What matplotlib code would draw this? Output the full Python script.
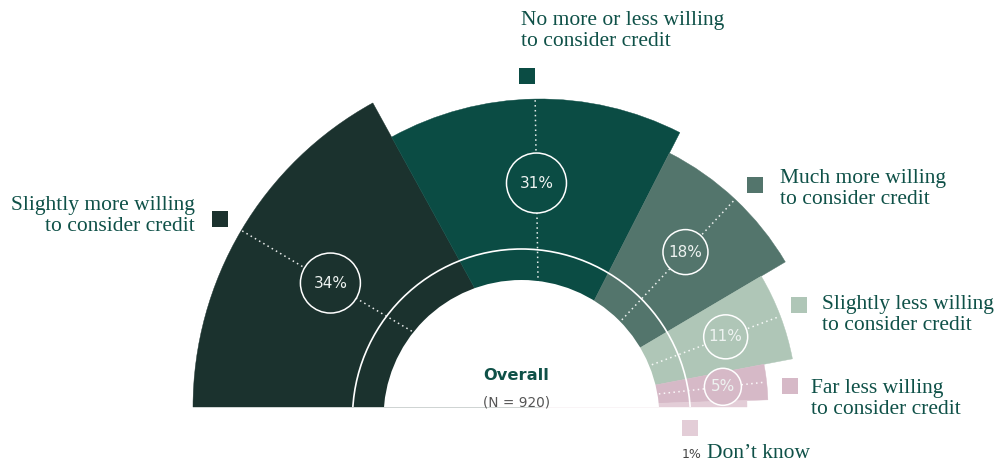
import matplotlib
matplotlib.use("Agg")
import numpy as np
import matplotlib.pyplot as plt
from matplotlib.patches import Wedge, Circle, Rectangle

# ---------------- data ----------------
categories = [
    "Slightly more willing\nto consider credit",
    "No more or less willing\nto consider credit",
    "Much more willing\nto consider credit",
    "Slightly less willing\nto consider credit",
    "Far less willing\nto consider credit",
    "Don\u2019t know",
]
values = [34, 31, 18, 11, 5, 1]
value_labels = ["34%", "31%", "18%", "11%", "5%", "1%"]
center_title = "Overall"
center_sub = "(N = 920)"

# ---------------- styles / layout ----------------
colors = ["#1b322e", "#0b4c44", "#53756c", "#afc6b7", "#d6b9c7", "#e3cdd7"]
outer_r = [347, 308, 285, 257, 228, 207]      # outer radius per wedge (px)
badge_r = [30, 30, 22.5, 22, 18.5, 0]          # label circle radius (px)
text_color = "#0f5148"

W, H = 1000, 467
fig = plt.figure(figsize=(10, 4.67), dpi=100)
ax = fig.add_axes([0, 0, 1, 1])
ax.set_xlim(0, W)
ax.set_ylim(0, H)
ax.axis("off")


def py(y):
    """convert a top-down pixel row into axis y"""
    return H - y


cx, cy = 540, py(407)          # pie centre
hx, hy = 521.5, py(418)        # hole / ring centre
hole_r, ring_r = 138, 169

clip = Rectangle((0, cy), W, H - cy, transform=ax.transData)

total = float(sum(values))
start = 180.0
mids = []
for v, col, r in zip(values, colors, outer_r):
    th2 = start
    th1 = start - 180.0 * v / total
    ax.add_patch(Wedge((cx, cy), r, th1, th2, facecolor=col, edgecolor=col,
                       linewidth=0.3, zorder=1))
    mids.append((th1 + th2) / 2)
    start = th1

# dotted radial guides
for m, r, br in zip(mids, outer_r, badge_r):
    if br <= 0:
        continue
    a = np.deg2rad(m)
    rr = np.array([100, r - 1])
    ax.plot(cx + rr * np.cos(a), cy + rr * np.sin(a), color="white",
            linestyle=(0, (1, 2.2)), linewidth=1.1, alpha=0.9, zorder=2)

# hole and ring
hole = Circle((hx, hy), hole_r, facecolor="white", edgecolor="none", zorder=3)
ax.add_patch(hole)
hole.set_clip_path(clip)
ring = Circle((hx, hy), ring_r, fill=False, edgecolor="white", linewidth=1.2,
              zorder=4)
ax.add_patch(ring)
ring.set_clip_path(clip)

# value badges
for m, r, br, col, lab in zip(mids, outer_r, badge_r, colors, value_labels):
    if br <= 0:
        continue
    a = np.deg2rad(m)
    rb = (140 + r) / 2
    bx, by = cx + rb * np.cos(a), cy + rb * np.sin(a)
    ax.add_patch(Circle((bx, by), br, facecolor=col, edgecolor="white",
                        linewidth=1.1, zorder=5))
    ax.text(bx, by, lab, ha="center", va="center", fontsize=11,
            color="#eef3f1", family="DejaVu Sans", zorder=6)

# centre text
ax.text(516.5, py(380), center_title, ha="center", va="baseline",
        fontsize=11.7, fontweight="bold", color=text_color,
        family="DejaVu Sans", zorder=6)
ax.text(516.5, py(406), center_sub, ha="center", va="baseline",
        fontsize=9.8, color="#555555", family="DejaVu Sans", zorder=6)

# legend squares and labels
sq_pos = [(212, 211), (519, 68), (747, 177), (791, 297), (782, 378), (682, 420)]
lab_pos = [(195, 210, "right"), (521, 25, "left"), (780, 183, "left"),
           (822, 309, "left"), (811, 393, "left"), (707, 458, "left")]
sq = 16
line_gap = 21
for cat, col, (sx, sy), (tx, ty, ha) in zip(categories, colors, sq_pos, lab_pos):
    ax.add_patch(Rectangle((sx, py(sy + sq)), sq, sq, facecolor=col,
                           edgecolor="none", zorder=6))
    for k, line in enumerate(cat.split("\n")):
        ax.text(tx, py(ty + k * line_gap), line, ha=ha, va="baseline",
                fontsize=15.5, color=text_color, family="Liberation Serif",
                zorder=6)

# small value prefix for the last category
ax.text(682, py(458), value_labels[-1], ha="left", va="baseline",
        fontsize=9, color="#444444", family="DejaVu Sans", zorder=6)

fig.savefig("out.png", dpi=100, facecolor="white")
